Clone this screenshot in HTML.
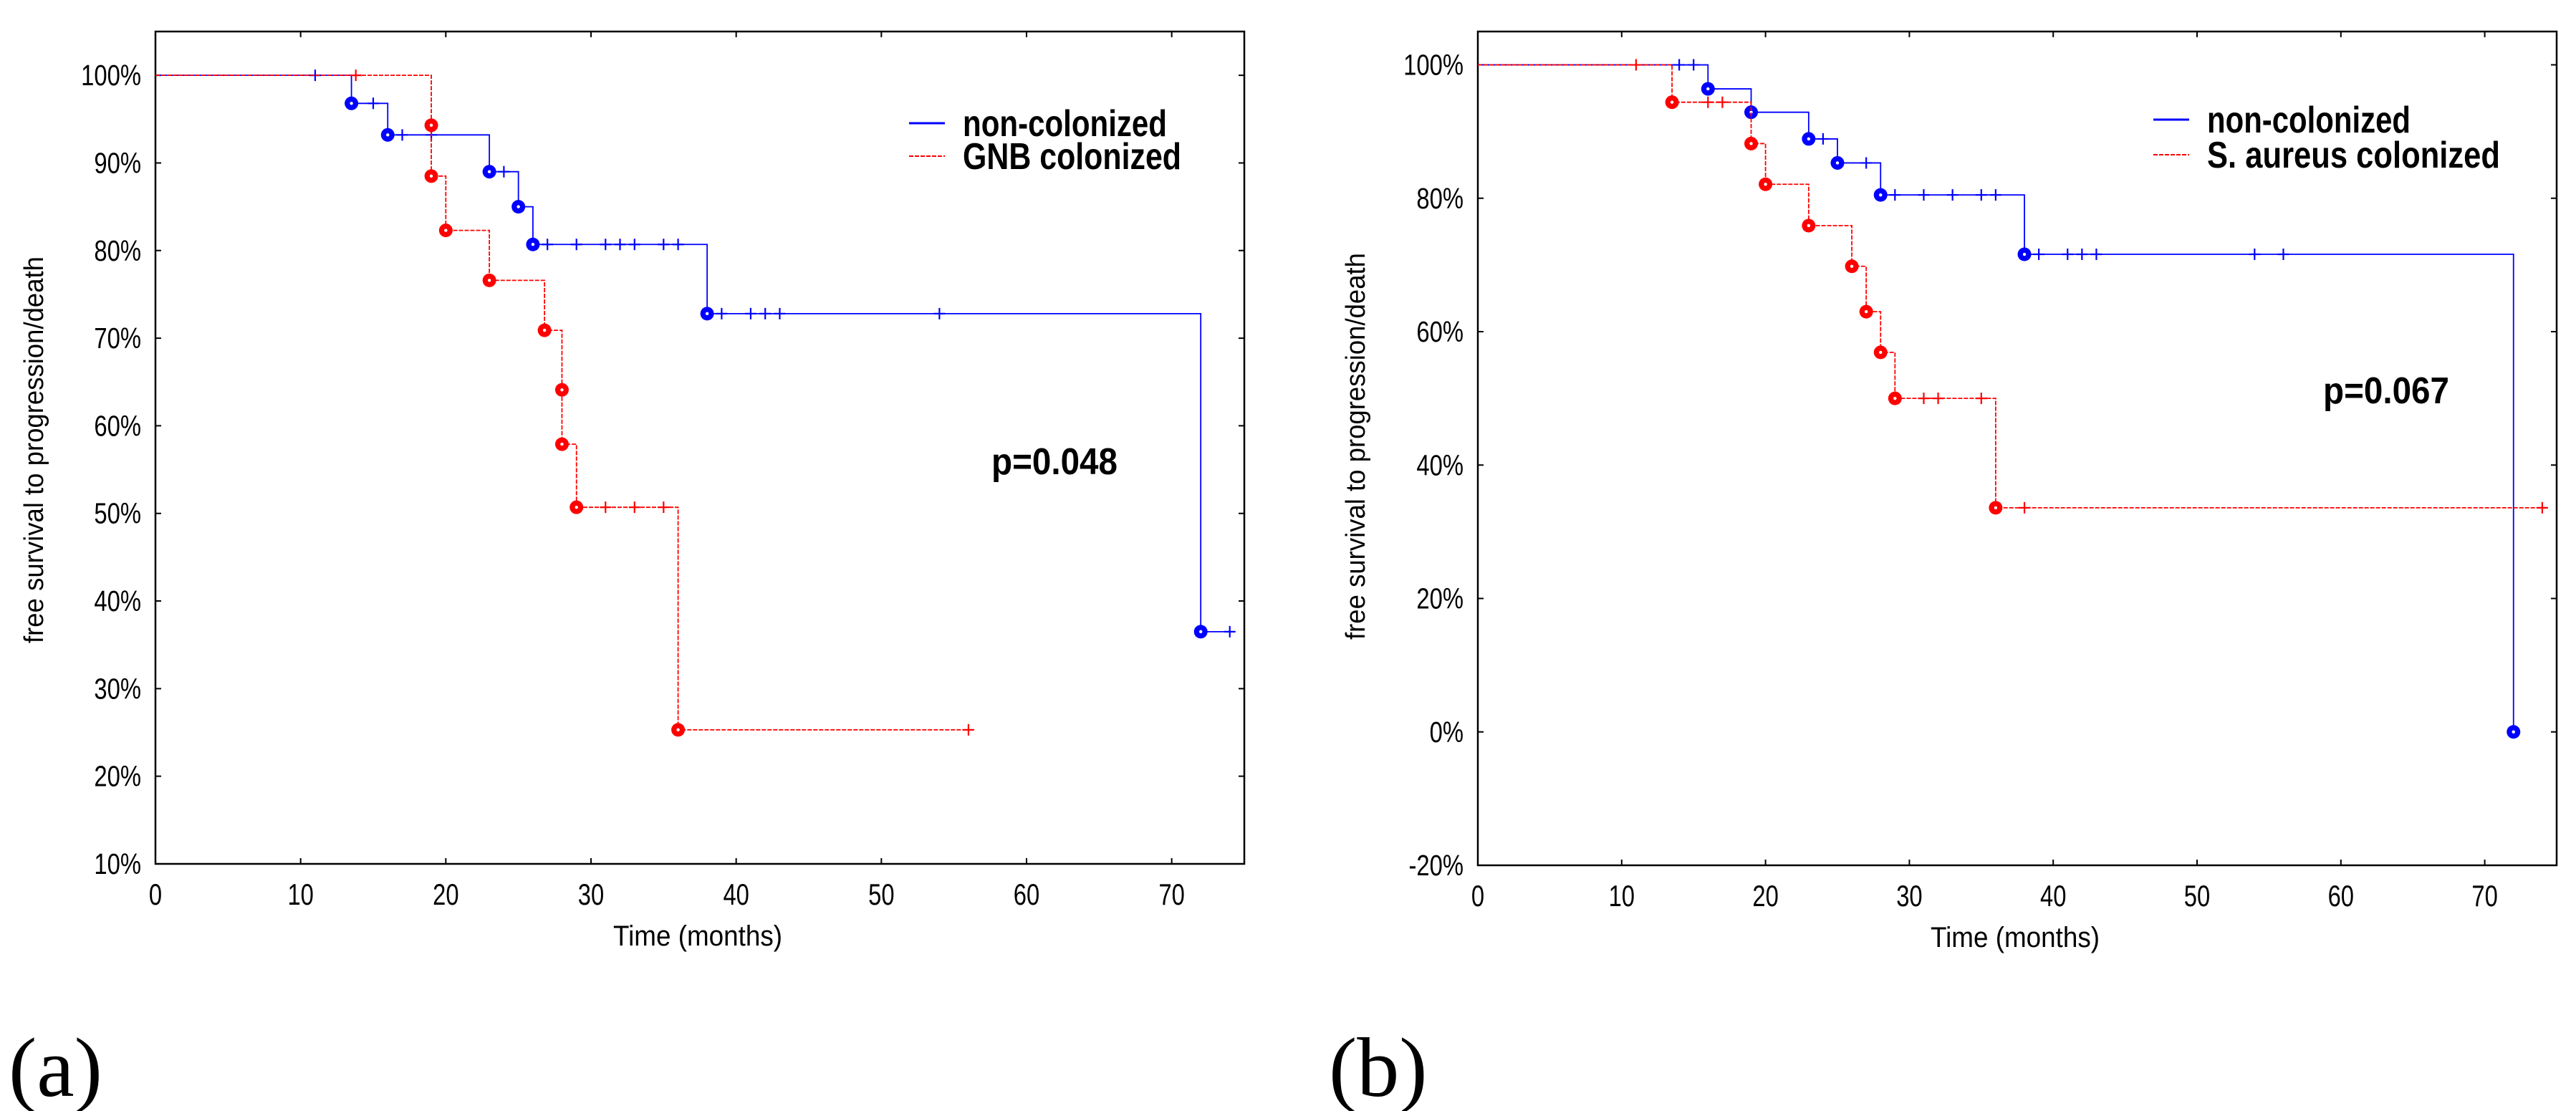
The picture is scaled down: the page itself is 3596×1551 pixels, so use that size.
<!DOCTYPE html>
<html><head><meta charset="utf-8"><style>
html,body{margin:0;padding:0;background:#fff;}
svg{display:block;}
text{font-family:"Liberation Sans",Arial,sans-serif;}
</style></head><body>
<svg id="root" width="3596" height="1551" viewBox="0 0 3596 1551" xmlns="http://www.w3.org/2000/svg">
  <g id="panelA"></g>
  <g id="panelB"></g>
  <text x="12" y="1530" font-size="118" fill="#000" style="font-family:'Liberation Serif',serif">(a)</text>
  <text x="1855" y="1530" font-size="118" fill="#000" style="font-family:'Liberation Serif',serif">(b)</text>
</svg>
<script>
// ---- Panel A data ----
const aXTicks = [0,10,20,30,40,50,60,70];
const aYTicks = [10,20,30,40,50,60,70,80,90,100];
const aBlueEventT = [13.5,16,23,25,26,38,72];
const aBlueEventV = [96.8,93.2,89,85,80.7,72.8,36.5];
const aBlueCensorT = [11,15,17,19,24,27,29,31,32,33,35,36,39,41,42,43,54,74];
const aBlueEnd = 74;
const aRedEventT = [19,19,20,23,26.8,28,28,29,36];
const aRedEventV = [94.3,88.5,82.3,76.6,70.9,64.1,57.9,50.7,25.3];
const aRedCensorT = [13.8,31,33,35,56];
const aRedEnd = 56;
// ---- Panel B data ----
const bXTicks = [0,10,20,30,40,50,60,70];
const bYTicks = [-20,0,20,40,60,80,100];
const bBlueEventT = [16,19,23,25,28,38,72];
const bBlueEventV = [96.4,92.9,88.9,85.3,80.5,71.6,0];
const bBlueCensorT = [14,15,24,27,29,31,33,35,36,39,41,42,43,54,56];
const bBlueEnd = 72;
const bRedEventT = [13.5,19,20,23,26,27,28,29,36];
const bRedEventV = [94.4,88.2,82.1,75.9,69.8,63,56.9,50,33.6];
const bRedCensorT = [11,16,17,31,32,35,38,74];
const bRedEnd = 74;

const NS = "http://www.w3.org/2000/svg";
function mk(parent, tag, attrs){
  const e = document.createElementNS(NS, tag);
  for (const k in attrs) e.setAttribute(k, attrs[k]);
  parent.appendChild(e);
  return e;
}
function levelAt(ts, vs, t){
  let v = 100;
  for (let i=0;i<ts.length;i++){ if (ts[i] <= t) v = vs[i]; }
  return v;
}
function drawPanel(g, cfg){
  const L=cfg.left, R=cfg.right, T=cfg.top, B=cfg.bottom;
  const xs = t => L + (t - 0) / 75 * (R - L);
  const ys = v => T + (cfg.ymax - v) / (cfg.ymax - cfg.ymin) * (B - T);
  const frame = mk(g,'rect',{x:L,y:T,width:R-L,height:B-T,fill:'none',stroke:'#000','stroke-width':2.5});
  
  
  cfg.xTicks.forEach(t=>{
    const x = xs(t);
    const tk = mk(g,'path',{d:`M${x} ${B}v-8M${x} ${T}v8`,stroke:'#000','stroke-width':2});
    
    
    const lb = mk(g,'text',{transform:`translate(${x},${B+57}) scale(0.78,1)`,'font-size':42,'text-anchor':'middle',fill:'#000'});
    lb.textContent = t;
    
    
  });
  cfg.yTicks.forEach(v=>{
    const y = ys(v);
    const tk = mk(g,'path',{d:`M${L} ${y}h8M${R} ${y}h-8`,stroke:'#000','stroke-width':2});
    
    
    const lb = mk(g,'text',{transform:`translate(${L-20},${y+14}) scale(0.8,1)`,'font-size':41,'text-anchor':'end',fill:'#000'});
    lb.textContent = v + '%';
    
    
  });
  const xt = mk(g,'text',{x:(cfg.xTitleX),y:B+114,'font-size':40,'text-anchor':'middle',textLength:236,lengthAdjust:'spacingAndGlyphs',fill:'#000'});
  xt.textContent='Time (months)';
  
  
  const yt = mk(g,'text',{transform:`translate(${cfg.yTitleX},${cfg.yTitleY}) rotate(-90)`,'font-size':38,'text-anchor':'middle',textLength:540,lengthAdjust:'spacingAndGlyphs',fill:'#000'});
  yt.textContent='free survival to progression/death';
  
  

  cfg.series.forEach(s=>{
    let d = `M${xs(0)} ${ys(100)}`;
    s.t.forEach((t,i)=>{ d += `H${xs(t)}V${ys(s.v[i])}`; });
    d += `H${xs(s.end)}`;
    const p = mk(g,'path',{d:d,fill:'none',stroke:s.color,'stroke-width':1.8});
    if (s.dash) p.setAttribute('stroke-dasharray', s.dash);
    
    
    s.t.forEach((t,i)=>{
      const c = mk(g,'circle',{cx:xs(t),cy:ys(s.v[i]),r:9.5,fill:s.color});
      
      
      const dot = mk(g,'circle',{cx:xs(t),cy:ys(s.v[i]),r:2.2,fill:'#fff'});
      
      
    });
    s.c.forEach(t=>{
      const x = xs(t), y = ys(levelAt(s.t, s.v, t));
      const cp = mk(g,'path',{d:`M${x-8} ${y}h16M${x} ${y-8}v16`,stroke:s.color,'stroke-width':2.2});
      
      
    });
  });
  cfg.series.forEach((s,i)=>{
    const ly = cfg.legY[i];
    const ln = mk(g,'line',{x1:cfg.legX,y1:ly,x2:cfg.legX+50,y2:ly,stroke:s.color,'stroke-width':i===0?3:2});
    if (s.dash) ln.setAttribute('stroke-dasharray', s.dash);
    
    
    const tx = mk(g,'text',{x:cfg.legX+75,y:ly+18,'font-size':52,'font-weight':'bold',textLength:s.labelLen,lengthAdjust:'spacingAndGlyphs',fill:'#000'});
    tx.textContent = s.label;
    
    
  });
  const pv = mk(g,'text',{x:cfg.pX,y:cfg.pY,'font-size':52,'font-weight':'bold',textLength:176,lengthAdjust:'spacingAndGlyphs',fill:'#000'});
  pv.textContent = cfg.pText;
  
  
}

drawPanel(document.getElementById('panelA'), {
  id:'a', left:217, right:1737, top:44, bottom:1206, ymin:10, ymax:105,
  xTicks:aXTicks, yTicks:aYTicks, xTitleX:974, yTitleX:60, yTitleY:628,
  legX:1269, legY:[172,218], pX:1384, pY:662, pText:'p=0.048',
  series:[
    {name:'non-colonized',label:'non-colonized',labelLen:285,color:'#0000ff',t:aBlueEventT,v:aBlueEventV,c:aBlueCensorT,end:aBlueEnd},
    {name:'gnb-colonized',label:'GNB colonized',labelLen:305,color:'#ff0000',dash:'6 2',t:aRedEventT,v:aRedEventV,c:aRedCensorT,end:aRedEnd}
  ]
});
drawPanel(document.getElementById('panelB'), {
  id:'b', left:2063, right:3569, top:44, bottom:1208, ymin:-20, ymax:105,
  xTicks:bXTicks, yTicks:bYTicks, xTitleX:2813, yTitleX:1905, yTitleY:623,
  legX:3006, legY:[167,216], pX:3243, pY:563, pText:'p=0.067',
  series:[
    {name:'non-colonized',label:'non-colonized',labelLen:284,color:'#0000ff',t:bBlueEventT,v:bBlueEventV,c:bBlueCensorT,end:bBlueEnd},
    {name:'s-aureus-colonized',label:'S. aureus colonized',labelLen:409,color:'#ff0000',dash:'6 2',t:bRedEventT,v:bRedEventV,c:bRedCensorT,end:bRedEnd}
  ]
});
</script>
</body></html>
